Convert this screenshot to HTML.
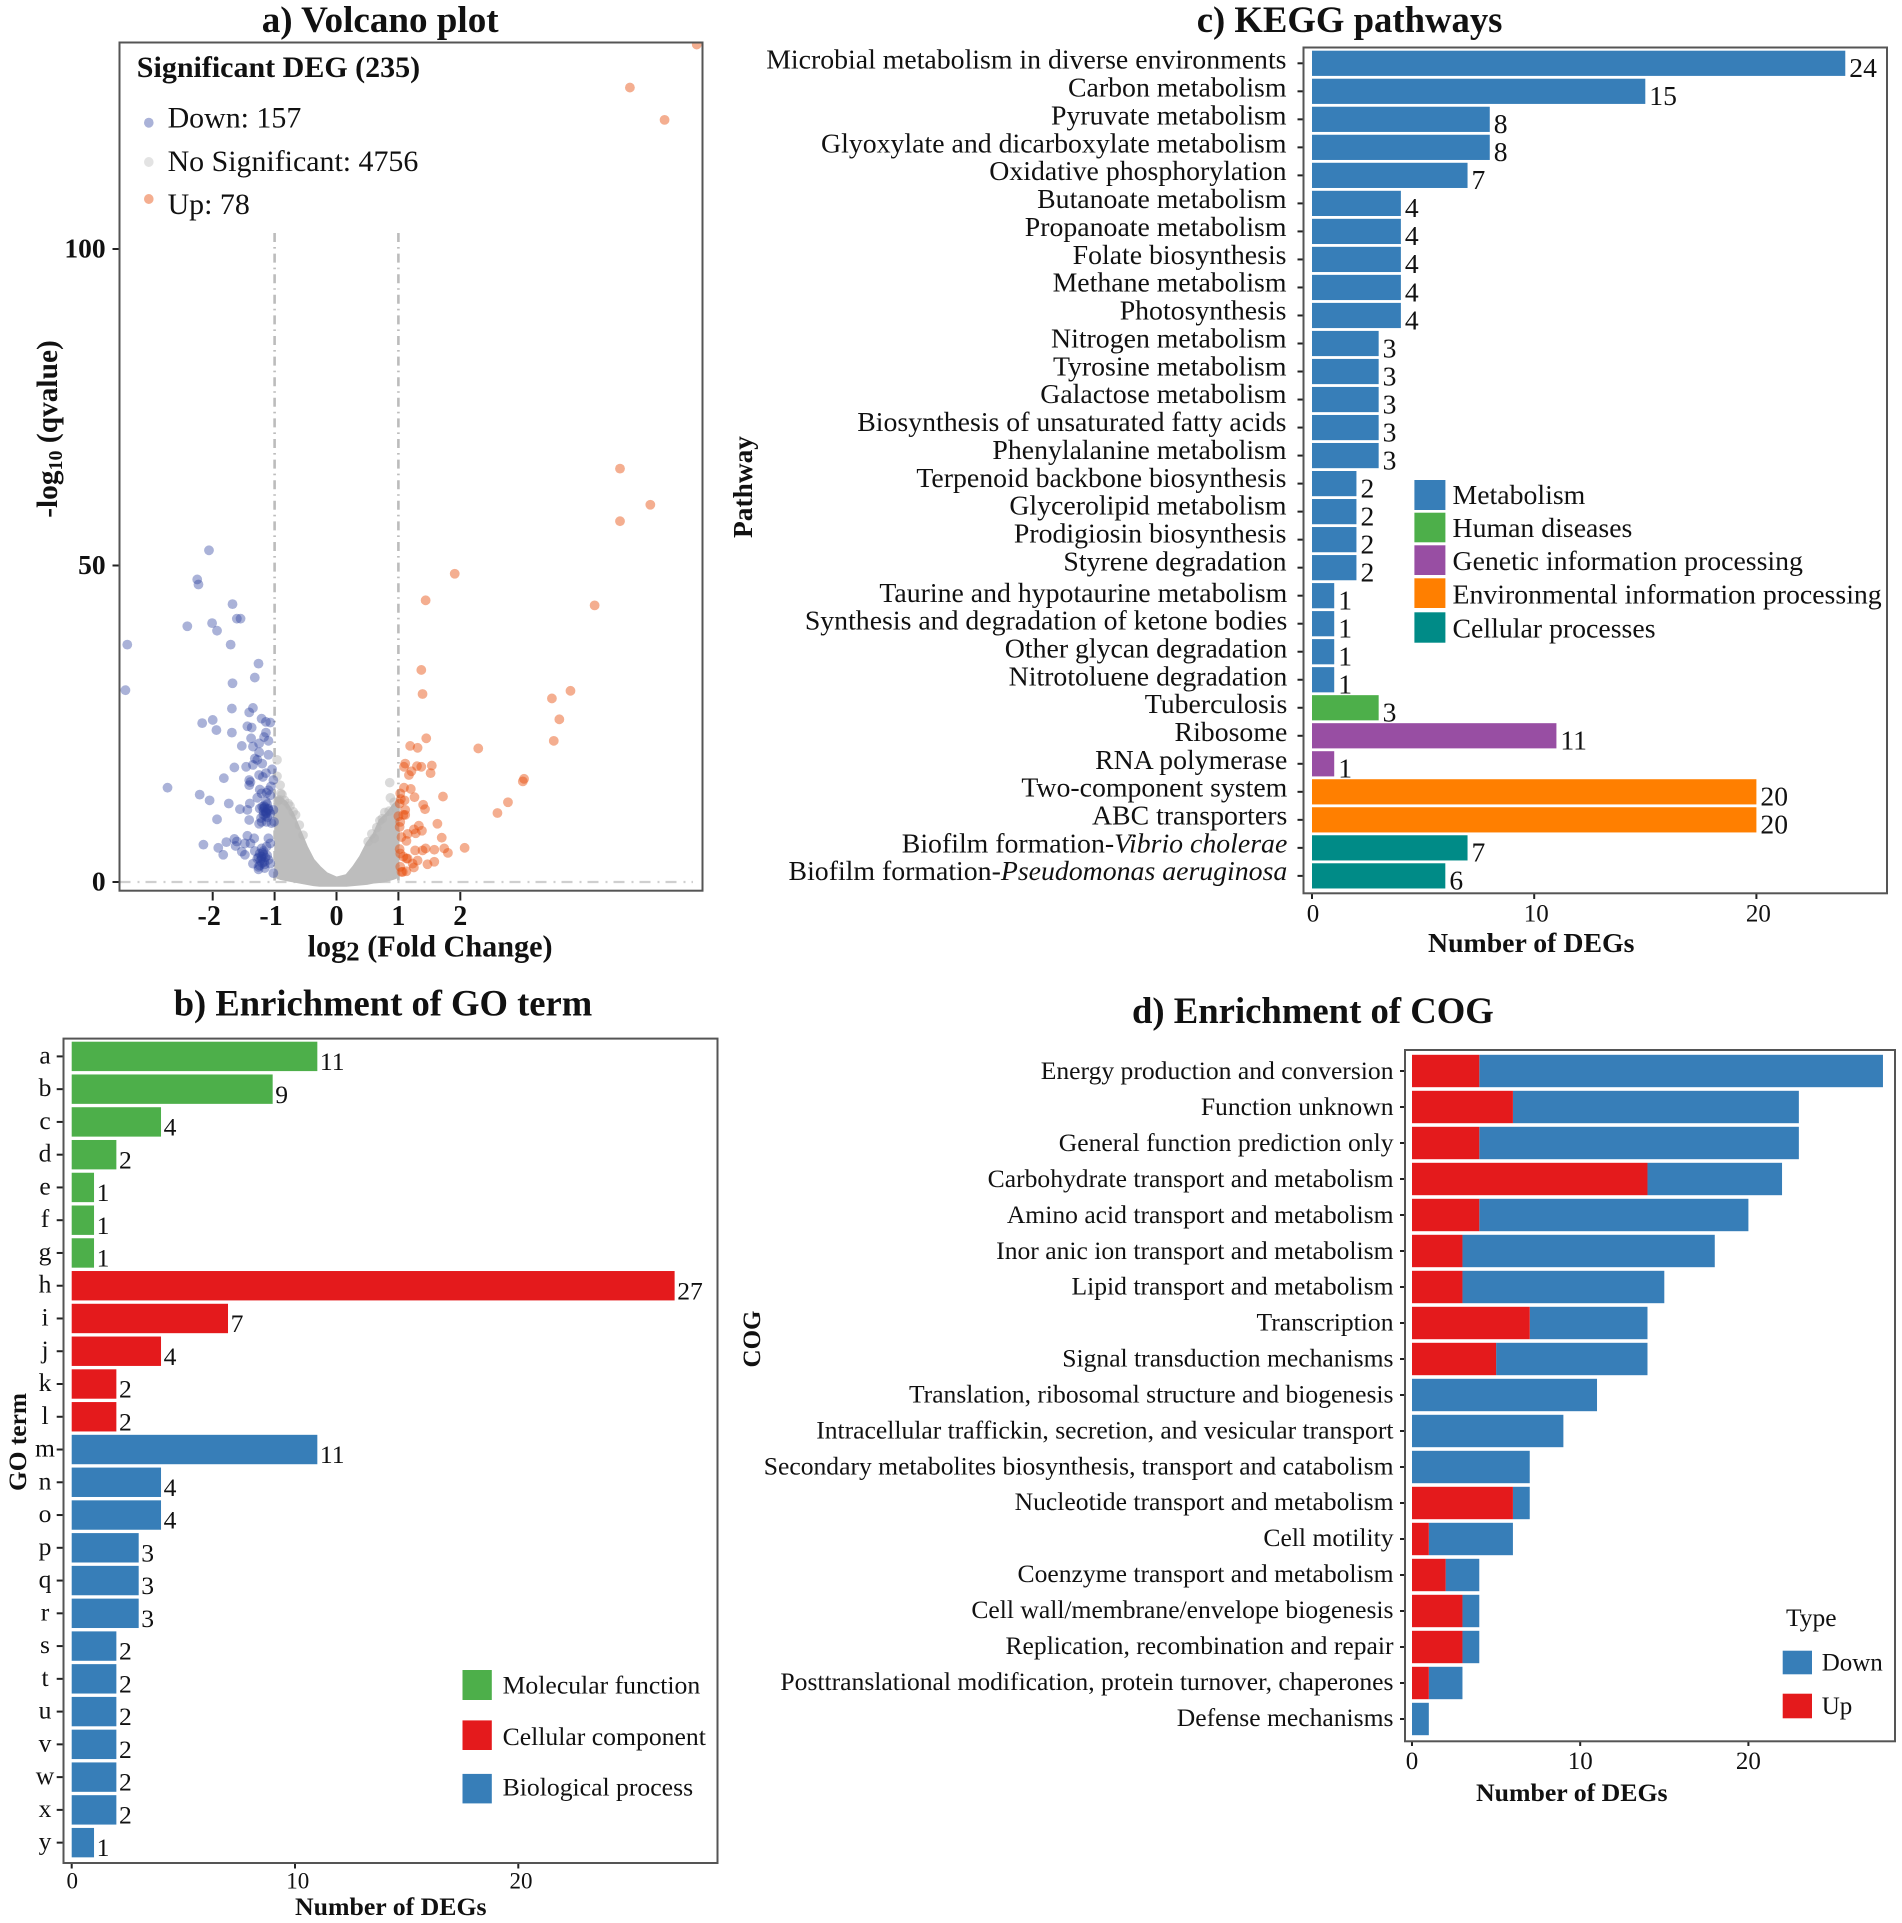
<!DOCTYPE html>
<html lang="en">
<head>
<meta charset="utf-8">
<title>DEG analysis figure</title>
<style>
html,body{margin:0;padding:0;background:#fff;}
svg{display:block;font-family:"Liberation Serif",serif;}
text{fill:#111;}
.b{font-weight:bold;}
</style>
</head>
<body>
<svg id="fig" xmlns="http://www.w3.org/2000/svg" width="1902" height="1923" viewBox="0 0 1902 1923">
<defs>
<clipPath id="clipA"><rect x="119.5" y="42.5" width="583" height="848.2"/></clipPath>
</defs>
<rect x="0" y="0" width="1902" height="1923" fill="#fff"/>

<text class="b" x="261.7" y="32" font-size="37.1">a) Volcano plot</text>
<text class="b" x="1196.7" y="32" font-size="36.7">c) KEGG pathways</text>
<text class="b" x="173.7" y="1015.5" font-size="36.6">b) Enrichment of GO term</text>
<text class="b" x="1132" y="1023" font-size="36.7">d) Enrichment of COG</text>

<g id="panelA"></g>
<g id="panelB"></g>
<g id="panelC"></g>
<g id="panelD"></g>

<rect x="119.5" y="42.5" width="583" height="848.2" fill="none" stroke="#555" stroke-width="2"/>
<rect x="63.5" y="1038.6" width="654" height="824.4" fill="none" stroke="#555" stroke-width="2"/>
<rect x="1303.5" y="47.5" width="583.5" height="845.8" fill="none" stroke="#555" stroke-width="2"/>
<rect x="1405" y="1050" width="490" height="691.3" fill="none" stroke="#555" stroke-width="2"/>

<g>
<text class="b" x="136.8" y="77" font-size="30">Significant DEG (235)</text>
<ellipse cx="148.8" cy="122.7" rx="4.8" ry="5" fill="#aab2d8"/>
<text x="167.6" y="127.7" font-size="29.9">Down: 157</text>
<ellipse cx="148.8" cy="162" rx="4.8" ry="5" fill="#e3e3e3"/>
<text x="167.6" y="171" font-size="29.9">No Significant: 4756</text>
<ellipse cx="148.8" cy="199" rx="4.8" ry="5" fill="#f4ae90"/>
<text x="167.6" y="214" font-size="29.9">Up: 78</text>
</g>
<text class="b" font-size="29.4" text-anchor="middle" transform="translate(57,429) rotate(-90)">-log<tspan font-size="20" dy="5">10</tspan><tspan dy="-5"> (qvalue)</tspan></text>
<text class="b" font-size="30.2" x="307.6" y="956.7">log<tspan font-size="27" dy="4">2</tspan><tspan dy="-4"> (Fold Change)</tspan></text>

<text class="b" font-size="25.4" text-anchor="middle" transform="translate(26,1442) rotate(-90)">GO term</text>
<text class="b" font-size="25.8" x="295" y="1915">Number of DEGs</text>
<g>
<rect x="462.5" y="1670" width="29.3" height="30" fill="#4daf4a"/>
<text x="502.6" y="1693.5" font-size="25.7">Molecular function</text>
<rect x="462.5" y="1720.4" width="29.3" height="29.6" fill="#e41a1c"/>
<text x="502.6" y="1745" font-size="25.7">Cellular component</text>
<rect x="462.5" y="1773.9" width="29.3" height="29.5" fill="#377eb8"/>
<text x="502.6" y="1795.5" font-size="25.7">Biological process</text>
</g>

<text class="b" font-size="27.4" text-anchor="middle" transform="translate(752,487) rotate(-90)">Pathway</text>
<text class="b" font-size="27.8" x="1428" y="952">Number of DEGs</text>
<g>
<rect x="1414.4" y="480" width="31" height="30" fill="#377eb8"/>
<text x="1452.5" y="504" font-size="27.8">Metabolism</text>
<rect x="1414.4" y="512.7" width="31" height="29.6" fill="#4daf4a"/>
<text x="1452.5" y="537" font-size="27.8">Human diseases</text>
<rect x="1414.4" y="545.3" width="31" height="29.7" fill="#984ea3"/>
<text x="1452.5" y="570" font-size="27.8">Genetic information processing</text>
<rect x="1414.4" y="578.3" width="31" height="29.7" fill="#ff7f00"/>
<text x="1452.5" y="603.5" font-size="27.8">Environmental information processing</text>
<rect x="1414.4" y="612.3" width="31" height="30.4" fill="#008b87"/>
<text x="1452.5" y="637.5" font-size="27.8">Cellular processes</text>
</g>

<text class="b" font-size="25" text-anchor="middle" transform="translate(760,1339) rotate(-90)">COG</text>
<text class="b" font-size="25.8" x="1476" y="1801">Number of DEGs</text>
<g>
<text x="1786" y="1626" font-size="25.5">Type</text>
<rect x="1782.7" y="1650.7" width="29.3" height="23.6" fill="#377eb8"/>
<text x="1821.7" y="1670.7" font-size="25">Down</text>
<rect x="1782.7" y="1693.7" width="29.3" height="24.6" fill="#e41a1c"/>
<text x="1821.7" y="1714" font-size="25">Up</text>
</g>
</svg>

<script>
// ---- Volcano plot data (log2 fold change / -log10 qvalue) ----
const volcanoXTicks = [-2, -1, 0, 1, 2];
const volcanoYTicks = [0, 50, 100];
const thresholdX = [-1, 1];
const thresholdY = [0];
const downX = [-2.06,-2.25,-2.23,-1.68,-1.61,-1.55,-2.41,-2.01,-1.93,-1.71,-3.38,-1.26,-1.32,-1.68,-3.41,-1.69,-1.35,-1.41,-2.17,-2.00,-1.21,-1.14,-1.07,-1.44,-1.37,-1.94,-1.69,-1.14,-1.17,-1.10,-1.38,-1.25,-1.53,-1.35,-1.25,-1.10,-1.32,-1.28,-1.35,-1.20,-1.46,-1.65,-1.82,-1.25,-1.14,-1.19,-1.04,-1.41,-1.39,-1.41,-1.02,-2.73,-1.24,-1.10,-1.06,-2.21,-2.05,-1.21,-1.13,-1.28,-1.07,-1.14,-1.12,-1.40,-1.74,-1.24,-1.18,-1.10,-1.02,-1.56,-1.44,-1.14,-1.18,-1.07,-1.41,-1.93,-1.21,-1.13,-1.05,-1.01,-1.44,-1.33,-1.65,-1.78,-1.61,-1.48,-1.39,-1.63,-2.15,-1.91,-1.10,-1.07,-1.83,-1.53,-1.48,-1.32,-1.21,-1.13,-1.24,-1.18,-1.26,-1.21,-1.35,-1.26,-1.16,-1.07,-1.02,-1.17,-1.10,-1.18,-1.14,-1.16,-1.21,-1.19,-1.23,-1.15,-1.12,-1.25,-1.13,-1.20,-1.09,-1.15,-1.22,-1.11,-1.17,-1.20,-1.24,-1.16,-1.28,-1.12,-1.18,-1.26];
const downY = [52.4,47.8,47.0,43.9,41.6,41.6,40.4,40.9,39.7,37.5,37.5,34.5,32.3,31.4,30.3,27.4,27.5,26.8,25.1,25.6,25.8,25.3,25.2,24.6,24.4,24.0,23.6,23.6,22.9,22.3,22.7,21.9,21.5,21.4,20.5,20.1,19.5,19.3,18.5,18.7,18.2,18.1,16.4,16.9,17.2,16.6,17.8,16.1,15.8,15.3,16.1,14.9,14.6,14.5,15.1,13.8,12.9,14.0,14.1,13.3,13.7,12.7,12.3,12.4,12.4,11.6,11.6,11.6,11.4,11.5,11.4,11.1,10.6,10.8,9.8,9.9,9.5,9.5,9.3,9.5,7.3,6.9,6.8,6.3,6.4,6.1,6.1,5.7,5.9,5.4,6.9,6.1,4.3,4.8,4.3,4.9,5.3,5.6,4.5,4.3,3.9,3.7,2.9,2.4,2.2,2.9,1.4,3.2,3.5,11.2,10.9,11.8,4.0,4.6,3.4,3.9,10.2,9.2,10.9,11.9,11.3,10.4,10.1,11.5,12.0,3.0,2.6,2.8,3.7,4.2,4.9,2.0];
const upX = [5.82,4.74,5.30,4.58,5.07,4.58,1.91,1.44,4.17,1.37,1.39,3.78,3.48,3.60,3.51,2.29,1.45,1.19,1.31,1.11,1.09,1.30,1.37,1.54,1.52,1.21,1.17,3.03,3.01,1.09,1.20,1.03,1.26,1.72,1.04,1.10,1.02,2.77,1.40,1.43,2.60,1.11,1.08,1.11,1.00,1.03,1.63,1.33,1.25,1.38,1.28,1.02,1.15,1.70,1.05,1.13,2.07,1.27,1.39,1.44,1.58,1.74,1.80,1.02,1.03,1.08,1.13,1.15,1.31,1.23,1.47,1.58,1.03,1.25,1.13,1.05,1.07];
const upY = [132.3,125.5,120.4,65.3,59.6,57.0,48.7,44.5,43.7,33.5,29.7,30.2,29.0,25.7,22.3,21.1,22.7,21.5,21.2,18.7,18.2,18.3,18.2,18.4,17.2,17.5,16.9,16.3,15.9,14.9,14.7,14.0,13.4,13.5,13.1,12.9,12.4,12.6,12.2,11.5,10.9,11.4,10.6,10.6,10.4,9.5,9.2,8.9,8.3,8.1,7.7,8.7,7.6,7.0,7.1,6.5,5.4,5.0,5.0,5.3,5.1,5.3,4.6,5.2,4.5,4.0,3.7,3.7,3.4,2.9,2.8,3.2,2.4,2.3,1.7,1.6,1.6];
const nsFringeX = [-0.96,-0.96,-0.91,-0.90,-0.92,-0.78,-0.70,0.86,0.87,0.78,0.70,0.61,-0.95,-0.88,-0.84,-0.75,-0.66,-0.60,-0.54,0.93,0.96,0.85,0.74,0.65,0.57,0.51];
const nsFringeY = [19.3,16.7,15.3,14.0,13.0,12.4,11.1,15.7,13.3,11.0,9.7,6.9,12.8,13.8,12.9,12.0,10.6,9.0,7.4,12.6,11.7,11.2,10.0,8.6,7.6,6.4];
const nsEnvelopeX = [-0.99,-0.91,-0.81,-0.70,-0.59,-0.48,-0.37,-0.27,-0.16,0,0.16,0.27,0.38,0.49,0.59,0.70,0.81,0.92,1.00];
const nsEnvelopeTop = [13.2,13.4,12.6,10.8,8.2,5.6,3.5,2.4,1.4,0.7,1.1,2.4,4.0,6.1,7.4,9.8,10.8,12.2,12.9];
const nsEnvelopeBottom = [0.8,0.5,0.3,0.1,-0.1,-0.3,-0.5,-0.6,-0.6,-0.6,-0.6,-0.5,-0.4,-0.3,-0.1,0,0.2,0.5,0.8];

// ---- GO term data ----
const goTerms = ['a','b','c','d','e','f','g','h','i','j','k','l','m','n','o','p','q','r','s','t','u','v','w','x','y'];
const goValues = [11,9,4,2,1,1,1,27,7,4,2,2,11,4,4,3,3,3,2,2,2,2,2,2,1];
const goGroups = ['mf','mf','mf','mf','mf','mf','mf','cc','cc','cc','cc','cc','bp','bp','bp','bp','bp','bp','bp','bp','bp','bp','bp','bp','bp'];
const goTicks = [0,10,20];

// ---- KEGG data ----
const keggLabels = ['Microbial metabolism in diverse environments','Carbon metabolism','Pyruvate metabolism','Glyoxylate and dicarboxylate metabolism','Oxidative phosphorylation','Butanoate metabolism','Propanoate metabolism','Folate biosynthesis','Methane metabolism','Photosynthesis','Nitrogen metabolism','Tyrosine metabolism','Galactose metabolism','Biosynthesis of unsaturated fatty acids','Phenylalanine metabolism','Terpenoid backbone biosynthesis','Glycerolipid metabolism','Prodigiosin biosynthesis','Styrene degradation','Taurine and hypotaurine metabolism','Synthesis and degradation of ketone bodies','Other glycan degradation','Nitrotoluene degradation','Tuberculosis','Ribosome','RNA polymerase','Two-component system','ABC transporters','Biofilm formation-Vibrio cholerae','Biofilm formation-Pseudomonas aeruginosa'];
const keggValues = [24,15,8,8,7,4,4,4,4,4,3,3,3,3,3,2,2,2,2,1,1,1,1,3,11,1,20,20,7,6];
const keggGroups = ['met','met','met','met','met','met','met','met','met','met','met','met','met','met','met','met','met','met','met','met','met','met','met','hd','gip','gip','eip','eip','cp','cp'];
const keggItalicNames = ['Vibrio cholerae','Pseudomonas aeruginosa'];
const keggTicks = [0,10,20];

// ---- COG data ----
const cogLabels = ['Energy production and conversion','Function unknown','General function prediction only','Carbohydrate transport and metabolism','Amino acid transport and metabolism','Inor anic ion transport and metabolism','Lipid transport and metabolism','Transcription','Signal transduction mechanisms','Translation, ribosomal structure and biogenesis','Intracellular traffickin, secretion, and vesicular transport','Secondary metabolites biosynthesis, transport and catabolism','Nucleotide transport and metabolism','Cell motility','Coenzyme transport and metabolism','Cell wall/membrane/envelope biogenesis','Replication, recombination and repair','Posttranslational modification, protein turnover, chaperones','Defense mechanisms'];
const cogUp = [4,6,4,14,4,3,3,7,5,0,0,0,6,1,2,3,3,1,0];
const cogDown = [24,17,19,8,16,15,12,7,9,11,9,7,1,5,2,1,1,2,1];
const cogTicks = [0,10,20];

const groupColors = {mf:'#4daf4a',cc:'#e41a1c',bp:'#377eb8',met:'#377eb8',hd:'#4daf4a',gip:'#984ea3',eip:'#ff7f00',cp:'#008b87'};
const NS = 'http://www.w3.org/2000/svg';
function mk(tag, parent, attrs, txt) {
  const el = document.createElementNS(NS, tag);
  for (const k in attrs) el.setAttribute(k, attrs[k]);
  if (txt !== undefined) el.textContent = txt;
  parent.appendChild(el);
  return el;
}
function slug(s) { return String(s).toLowerCase().replace(/[^a-z0-9]+/g, '-').replace(/^-|-$/g, ''); }

// axis functions
const volX = v => 336.5 + 61.9 * v;
const volY = v => 882 - 6.33 * v;
const goX = v => 71.7 + 22.33 * v;
const goY = i => 1056.4 + 32.76 * i;
const keggX = v => 1312 + 22.22 * v;
const keggY = i => 63.3 + 28.02 * i;
const cogX = v => 1412 + 16.82 * v;
const cogY = i => 1071 + 36 * i;

// ---- Panel A ----
(function () {
  const g = document.getElementById('panelA');
  const clip = mk('g', g, {'clip-path': 'url(#clipA)'});
  
  
  thresholdX.forEach(function (v) {
    const el = mk('line', clip, {x1: volX(v), x2: volX(v), y1: 233, y2: volY(0), stroke: '#bcbcbc', 'stroke-width': 2.6, 'stroke-dasharray': '9 5 1.6 5'});
    
    
  });
  thresholdY.forEach(function (v) {
    const el = mk('line', clip, {x1: 119.5, x2: 693, y1: volY(v), y2: volY(v), stroke: '#cfcfcf', 'stroke-width': 2.2, 'stroke-dasharray': '11 7 2 6'});
    
    
  });
  const top = nsEnvelopeX.map((x, i) => volX(x) + ',' + volY(nsEnvelopeTop[i]));
  const bot = nsEnvelopeX.map((x, i) => volX(x) + ',' + volY(nsEnvelopeBottom[i])).reverse();
  const poly = mk('polygon', clip, {points: top.concat(bot).join(' '), fill: '#bdbdbd', stroke: '#bdbdbd', 'stroke-width': 2, 'stroke-linejoin': 'round'});
  
  
  nsFringeX.forEach(function (x, i) {
    const el = mk('circle', clip, {cx: volX(x), cy: volY(nsFringeY[i]), r: 4.8, fill: '#b5b5b5', opacity: 0.5});
    
    
  });
  downX.forEach(function (x, i) {
    const el = mk('circle', clip, {cx: volX(x), cy: volY(downY[i]), r: 4.9, fill: '#2a3f9d', opacity: 0.4});
    
    
  });
  upX.forEach(function (x, i) {
    const el = mk('circle', clip, {cx: volX(x), cy: volY(upY[i]), r: 4.9, fill: '#e74b08', opacity: 0.45});
    
    
  });
  volcanoYTicks.forEach(function (v) {
    const t = mk('line', g, {x1: 112.5, x2: 119, y1: volY(v), y2: volY(v), stroke: '#222', 'stroke-width': 2});
    
    
    const l = mk('text', g, {x: 105.6, y: volY(v) + 8.5, 'text-anchor': 'end', 'font-size': 27.5, 'font-weight': 'bold'}, v);
    
    
  });
  volcanoXTicks.forEach(function (v) {
    const t = mk('line', g, {x1: volX(v), x2: volX(v), y1: 892, y2: 900.5, stroke: '#222', 'stroke-width': 2});
    
    
    const l = mk('text', g, {x: volX(v) + (v < 0 ? -3.5 : 0), y: 925, 'text-anchor': 'middle', 'font-size': 28, 'font-weight': 'bold'}, v);
    
    
  });
})();

// ---- Panel B ----
(function () {
  const g = document.getElementById('panelB');
  goTerms.forEach(function (name, i) {
    const cy = goY(i);
    const bar = mk('rect', g, {x: goX(0), y: cy - 14.7, width: goX(goValues[i]) - goX(0), height: 29.4, fill: groupColors[goGroups[i]]});
    
    
    const val = mk('text', g, {x: goX(goValues[i]) + 2.6, y: cy + 13.6, 'font-size': 25.6}, goValues[i]);
    
    
    const tick = mk('line', g, {x1: 56.7, x2: 62.7, y1: cy, y2: cy, stroke: '#222', 'stroke-width': 2});
    
    
    const lab = mk('text', g, {x: 45, y: cy + 7, 'text-anchor': 'middle', 'font-size': 25.6}, name);
    
    
  });
  goTicks.forEach(function (v) {
    const t = mk('line', g, {x1: goX(v), x2: goX(v), y1: 1863, y2: 1868.5, stroke: '#222', 'stroke-width': 2});
    
    
    const l = mk('text', g, {x: goX(v) + (v ? 2.7 : 0.5), y: 1888.3, 'text-anchor': 'middle', 'font-size': 23}, v);
    
    
  });
})();

// ---- Panel C ----
(function () {
  const g = document.getElementById('panelC');
  keggLabels.forEach(function (name, i) {
    const cy = keggY(i);
    const bar = mk('rect', g, {x: keggX(0), y: cy - 12.6, width: keggX(keggValues[i]) - keggX(0), height: 25.2, fill: groupColors[keggGroups[i]]});
    
    
    const val = mk('text', g, {x: keggX(keggValues[i]) + 4, y: cy + 13.8, 'font-size': 27.6}, keggValues[i]);
    
    
    const tick = mk('line', g, {x1: 1297.5, x2: 1303.5, y1: cy, y2: cy, stroke: '#222', 'stroke-width': 2});
    
    
    const ly = i < 19 ? 68.7 + 27.87 * i : 601.9 + 27.83 * (i - 19);
    const lx = i < 19 ? 1286.5 : 1287.3;
    const lab = mk('text', g, {x: lx, y: ly, 'text-anchor': 'end', 'font-size': 27.8});
    
    
    const it = keggItalicNames.find(n => name.endsWith(n));
    if (it) {
      mk('tspan', lab, {}, name.slice(0, name.length - it.length));
      mk('tspan', lab, {'font-style': 'italic'}, it);
    } else {
      lab.textContent = name;
    }
  });
  keggTicks.forEach(function (v) {
    const t = mk('line', g, {x1: keggX(v), x2: keggX(v), y1: 893.3, y2: 899, stroke: '#222', 'stroke-width': 2});
    
    
    const l = mk('text', g, {x: keggX(v) + (v ? 2 : 1), y: 921.7, 'text-anchor': 'middle', 'font-size': 25}, v);
    
    
  });
})();

// ---- Panel D ----
(function () {
  const g = document.getElementById('panelD');
  cogLabels.forEach(function (name, i) {
    const cy = cogY(i);
    const up = cogUp[i], down = cogDown[i];
    const dn = mk('rect', g, {x: cogX(up), y: cy - 16.2, width: cogX(up + down) - cogX(up), height: 32.4, fill: '#377eb8'});
    
    
    const u = mk('rect', g, {x: cogX(0), y: cy - 16.2, width: cogX(up) - cogX(0), height: 32.4, fill: '#e41a1c'});
    
    
    const tick = mk('line', g, {x1: 1400, x2: 1405, y1: cy, y2: cy, stroke: '#222', 'stroke-width': 2});
    
    
    const lab = mk('text', g, {x: 1393.5, y: 1079.2 + 35.92 * i, 'text-anchor': 'end', 'font-size': 25.6}, name);
    
    
  });
  cogTicks.forEach(function (v) {
    const t = mk('line', g, {x1: cogX(v), x2: cogX(v), y1: 1741.3, y2: 1746, stroke: '#222', 'stroke-width': 2});
    
    
    const l = mk('text', g, {x: cogX(v), y: 1769, 'text-anchor': 'middle', 'font-size': 25}, v);
    
    
  });
})();
</script>
</body>
</html>
